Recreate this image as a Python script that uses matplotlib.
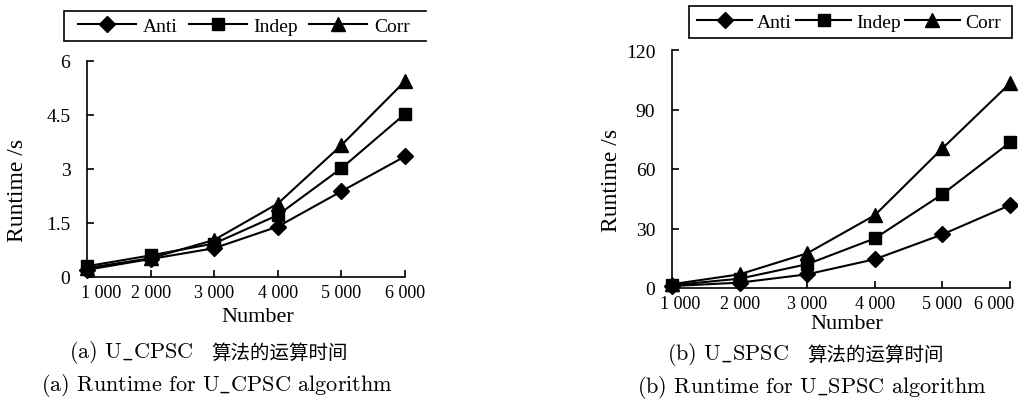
import matplotlib
matplotlib.use("Agg")
import matplotlib.pyplot as plt
import matplotlib.transforms as mtransforms
from matplotlib.lines import Line2D
from matplotlib.patches import Rectangle

# data
numbers = ["1 000", "2 000", "3 000", "4 000", "5 000", "6 000"]
series = ["Anti", "Indep", "Corr"]
markers = ["D", "s", "^"]
msizes = [8, 8.5, 10]

cpsc_anti = [0.20, 0.50, 0.80, 1.40, 2.38, 3.35]
cpsc_indep = [0.30, 0.60, 0.93, 1.72, 3.02, 4.53]
cpsc_corr = [0.25, 0.52, 1.03, 2.04, 3.66, 5.44]

spsc_anti = [1.0, 2.7, 6.9, 14.5, 27.0, 41.8]
spsc_indep = [1.4, 4.7, 12.0, 25.0, 47.3, 73.4]
spsc_corr = [1.9, 6.9, 17.5, 36.7, 70.4, 103.2]

cpsc_yticks = [0, 1.5, 3, 4.5, 6]
cpsc_ylabels = ["0", "1.5", "3", "4.5", "6"]
spsc_yticks = [0, 30, 60, 90, 120]

W, H = 1018, 406
serif = ["Liberation Serif", "Noto Sans CJK SC"]

fig = plt.figure(figsize=(W / 100, H / 100), dpi=100)


def px_axes(x0, x1, ytop, ybot):
    return fig.add_axes([x0 / W, 1 - ybot / H, (x1 - x0) / W, (ybot - ytop) / H])


def draw_panel(ax, data, yticks, ylabels, ymax, first_dx, last_dx, xlab, ylab):
    x = list(range(len(numbers)))
    for vals, m, ms in zip(data, markers, msizes):
        ax.plot(x, vals, color="black", lw=1.5, marker=m, ms=ms, clip_on=False)
    ax.set_xlim(0, len(numbers) - 1)
    ax.set_ylim(0, ymax)
    ax.set_xticks(x)
    ax.set_xticklabels(numbers, family=serif, fontsize=13)
    ax.set_yticks(yticks)
    ax.set_yticklabels(ylabels, family=serif, fontsize=14)
    ax.tick_params(direction="in", length=5, width=1.2, colors="black")
    ax.tick_params(axis="x", pad=5)
    ax.tick_params(axis="y", pad=12)
    # the edge labels sit a bit inward, as in the original
    labels = ax.get_xticklabels()
    for lab, dx in [(labels[0], first_dx), (labels[-1], last_dx)]:
        lab.set_transform(lab.get_transform() +
                          mtransforms.ScaledTranslation(dx / 100, 0, fig.dpi_scale_trans))
    for s in ["top", "right"]:
        ax.spines[s].set_visible(False)
    for s in ["left", "bottom"]:
        ax.spines[s].set_linewidth(1.2)
    ax.set_xlabel("Number", family=serif, fontsize=16, va="center")
    ax.xaxis.set_label_coords(*xlab)
    ax.set_ylabel("Runtime /s", family=serif, fontsize=17, va="center")
    ax.yaxis.set_label_coords(*ylab)


ax1 = px_axes(87, 405, 62, 278)
draw_panel(ax1, [cpsc_anti, cpsc_indep, cpsc_corr], cpsc_yticks, cpsc_ylabels, 6,
           14, 0, (0.538, -0.185), (-0.217, 0.407))

ax2 = px_axes(672, 1010, 51, 289)
draw_panel(ax2, [spsc_anti, spsc_indep, spsc_corr], spsc_yticks,
           [str(v) for v in spsc_yticks], 120, 8, -16, (0.518, -0.151), (-0.178, 0.458))

handles = [Line2D([], [], color="black", lw=1.5, marker=m, ms=ms)
           for m, ms in zip(markers, msizes)]

# legend boxes drawn by hand, entries by fig.legend without frame
for bx0, by0, bx1, by1 in [(64, 12, 440, 42), (689, 7, 1012, 39)]:
    fig.add_artist(Rectangle((bx0 / W, 1 - by1 / H), (bx1 - bx0) / W, (by1 - by0) / H,
                             transform=fig.transFigure, fill=False,
                             edgecolor="black", lw=1.2))

fig.legend(handles, series, loc="center left", ncol=3,
           bbox_to_anchor=(78 / W, 1 - 27 / H),
           prop={"family": serif, "size": 14}, frameon=False,
           handlelength=3.0, handletextpad=0.35,
           columnspacing=0.55, borderpad=0, borderaxespad=0)
fig.legend(handles, series, loc="center left", ncol=3,
           bbox_to_anchor=(697 / W, 1 - 23 / H),
           prop={"family": serif, "size": 14}, frameon=False,
           handlelength=2.85, handletextpad=0.25,
           columnspacing=0.2, borderpad=0, borderaxespad=0)

# the left panel is cropped on its right side in the original
fig.add_artist(Rectangle((427 / W, 1 - 305 / H), 160 / W, 305 / H,
                         transform=fig.transFigure, color="white", zorder=20))

cap_font = ["cmr10"]
cap_size = 16
# Chinese captions: Latin part and Chinese part set separately
for rx, lx, cy, prefix in [(193, 211, 353, r"(a) $\mathrm{U\_CPSC}$"),
                           (789, 807, 355, r"(b) $\mathrm{U\_SPSC}$")]:
    fig.text(rx / W, 1 - cy / H, prefix, family=cap_font, math_fontfamily="cm",
             fontsize=cap_size, ha="right", va="center")
    fig.text(lx / W, 1 - cy / H, "算法的运算时间", family=["Noto Sans CJK SC"],
             fontsize=14, ha="left", va="center")

for cx, cy, txt in [(217, 386, r"(a) Runtime for $\mathrm{U\_CPSC}$ algorithm"),
                    (812, 388, r"(b) Runtime for $\mathrm{U\_SPSC}$ algorithm")]:
    fig.text(cx / W, 1 - cy / H, txt, family=cap_font, math_fontfamily="cm",
             fontsize=cap_size, ha="center", va="center")

fig.savefig("out.png", dpi=100, facecolor="white")
